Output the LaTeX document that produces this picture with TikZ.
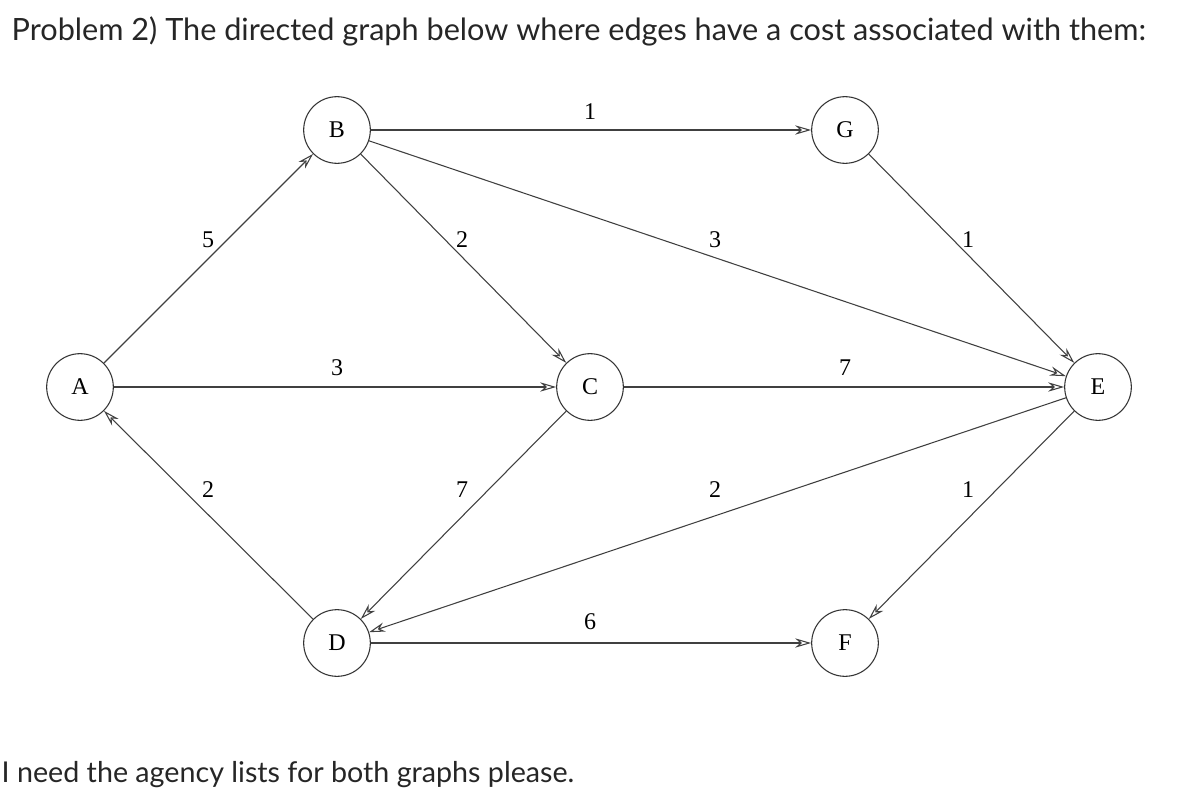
\documentclass[tikz,border=0pt]{standalone}
\usepackage{fontspec}
\setmainfont{Liberation Serif}
\newfontfamily\lato{Lato}
\usetikzlibrary{arrows.meta}
\begin{document}
\begin{tikzpicture}[x=0.75pt,y=-0.75pt,
  vert/.style={circle,draw=black!80,line width=0.8pt,minimum size=50pt,inner sep=0pt,font=\fontsize{18}{20}\selectfont},
  edge/.style={draw=black!75,line width=0.8pt,-{Stealth[length=12pt,width=7pt,open]}},
  lab/.style={font=\fontsize{18}{20}\selectfont,inner sep=1pt}]
\useasboundingbox (0,0) rectangle (1190,796);
\node[anchor=west,font=\lato\fontsize{23}{26}\selectfont,text=black!85] (title) at (7,31) {Problem 2) The directed graph below where edges have a cost associated with them:};
\node[anchor=west,font=\lato\fontsize{21.5}{25}\selectfont,text=black!85] (foot) at (-3,775) {I need the agency lists for both graphs please.};
\node[vert] (B) at (337,130) {B};
\node[vert] (G) at (845,130) {G};
\node[vert] (A) at (80,387) {A};
\node[vert] (C) at (590,387) {C};
\node[vert] (E) at (1098,387) {E};
\node[vert] (D) at (337,643) {D};
\node[vert] (F) at (845,643) {F};
\draw[edge] (A) -- (B);
\draw[edge] (B) -- (G);
\draw[edge] (B) -- (C);
\draw[edge] (B) -- (E);
\draw[edge] (G) -- (E);
\draw[edge] (A) -- (C);
\draw[edge] (C) -- (E);
\draw[edge] (C) -- (D);
\draw[edge] (E) -- (D);
\draw[edge] (E) -- (F);
\draw[edge] (D) -- (A);
\draw[edge] (D) -- (F);
\node[lab] (l1) at (590,112) {1};
\node[lab] (l2) at (208,240) {5};
\node[lab] (l3) at (462,240) {2};
\node[lab] (l4) at (715,240) {3};
\node[lab] (l5) at (968,240) {1};
\node[lab] (l6) at (337,368) {3};
\node[lab] (l7) at (845,368) {7};
\node[lab] (l8) at (208,490) {2};
\node[lab] (l9) at (462,490) {7};
\node[lab] (l10) at (715,490) {2};
\node[lab] (l11) at (968,490) {1};
\node[lab] (l12) at (590,622) {6};
\end{tikzpicture}
\end{document}
